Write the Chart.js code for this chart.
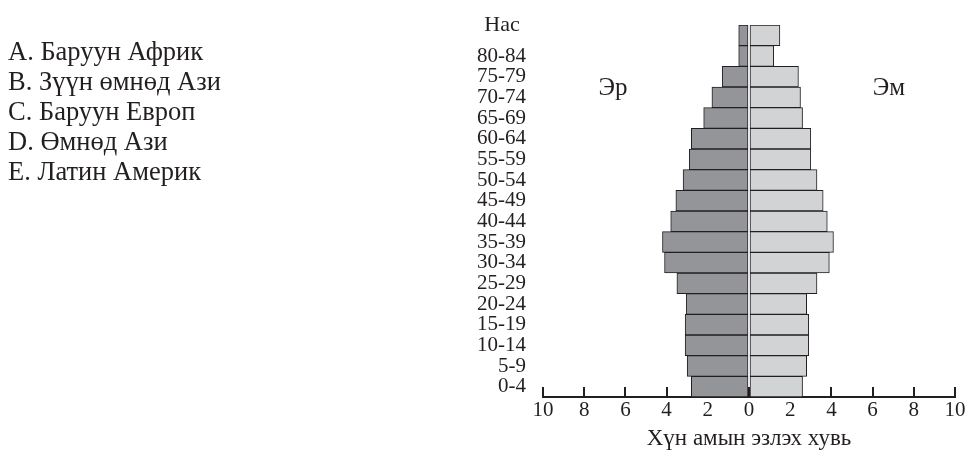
<!DOCTYPE html>
<html>
<head>
<meta charset="utf-8">
<script src="https://cdn.jsdelivr.net/npm/chart.js@4"></script>
<style>
  body { margin: 0; background: #fff; }
  #wrap { position: relative; width: 966px; height: 450px; }
  #choices {
    position: absolute; left: 8px; top: 36px;
    font-family: "Liberation Serif", serif; font-size: 26.5px; line-height: 30px;
    color: #231f20;
  }
</style>
</head>
<body>
<div id="wrap">
  <canvas id="pyramidChart" width="966" height="450"></canvas>
  <div id="choices">
    <div>A. Баруун Африк</div>
    <div>B. Зүүн өмнөд Ази</div>
    <div>C. Баруун Европ</div>
    <div>D. Өмнөд Ази</div>
    <div>E. Латин Америк</div>
  </div>
</div>
<script>
// age groups, bottom to top (top bar has no label)
const ageGroups = ['0-4', '5-9', '10-14', '15-19', '20-24', '25-29', '30-34', '35-39', '40-44',
  '45-49', '50-54', '55-59', '60-64', '65-69', '70-74', '75-79', '80-84', ''];
// share of population, %
const male = [2.8, 3.0, 3.1, 3.1, 3.05, 3.5, 4.1, 4.2, 3.8, 3.55, 3.2, 2.9, 2.8, 2.2, 1.8, 1.3, 0.5, 0.5];
const female = [2.6, 2.8, 2.9, 2.9, 2.8, 3.3, 3.9, 4.1, 3.8, 3.6, 3.3, 3.0, 3.0, 2.6, 2.5, 2.4, 1.2, 1.5];
const xTicks = [-10, -8, -6, -4, -2, 0, 2, 4, 6, 8, 10];

const ink = '#231f20';
const serif = '"Liberation Serif", "Times New Roman", serif';

// extra labels: axis name on top, sex labels
const extraText = {
  id: 'extraText',
  afterDraw(chart) {
    const ctx = chart.ctx;
    ctx.save();
    ctx.fillStyle = ink;
    ctx.textAlign = 'center';
    ctx.textBaseline = 'alphabetic';
    ctx.font = '22px ' + serif;
    ctx.fillText('Нас', 502, 31);
    ctx.font = '25px ' + serif;
    ctx.fillText('Эр', 613, 95);
    ctx.fillText('Эм', 889, 95);
    ctx.restore();
  }
};

// no extra label padding around the plot, layout padding decides
const noScalePad = scale => {
  scale.paddingLeft = 0;
  scale.paddingRight = 0;
  scale.paddingTop = 0;
  scale.paddingBottom = 0;
};

const ctx = document.getElementById('pyramidChart').getContext('2d');
new Chart(ctx, {
  type: 'bar',
  data: {
    labels: ageGroups,
    datasets: [{
      label: 'Эр',
      data: male.map(v => -v),
      backgroundColor: '#939598',
      borderColor: ink,
      borderWidth: 1,
      borderSkipped: false,
      barPercentage: 1,
      categoryPercentage: 1
    }, {
      label: 'Эм',
      data: female,
      backgroundColor: '#d1d3d4',
      borderColor: ink,
      borderWidth: 1,
      borderSkipped: false,
      barPercentage: 1,
      categoryPercentage: 1
    }]
  },
  options: {
    indexAxis: 'y',
    responsive: false,
    animation: false,
    layout: { padding: { left: 0, right: 11, top: 25, bottom: 0 } },
    plugins: {
      legend: { display: false },
      tooltip: { enabled: false }
    },
    scales: {
      x: {
        stacked: true,
        min: -10,
        max: 10,
        afterBuildTicks: scale => { scale.ticks = xTicks.map(v => ({ value: v })); },
        afterFit: scale => { scale.height = 53; noScalePad(scale); },
        grid: { drawOnChartArea: false, drawTicks: true, tickLength: -10, color: ink, lineWidth: 2 },
        border: { display: true, color: ink, width: 2 },
        ticks: {
          padding: 11,
          color: ink,
          font: { family: serif, size: 21 },
          maxRotation: 0,
          callback: v => Math.abs(v)
        },
        title: {
          display: true,
          text: 'Хүн амын эзлэх хувь',
          color: ink,
          font: { family: serif, size: 23 },
          padding: { top: 0, bottom: -3 }
        }
      },
      y: {
        stacked: true,
        reverse: true,
        afterFit: scale => { scale.width = 543; noScalePad(scale); },
        grid: { display: false, drawTicks: false },
        border: { display: false },
        ticks: {
          autoSkip: false,
          padding: 17,
          color: ink,
          font: { family: serif, size: 21 }
        }
      }
    }
  },
  plugins: [extraText]
});
</script>
</body>
</html>
